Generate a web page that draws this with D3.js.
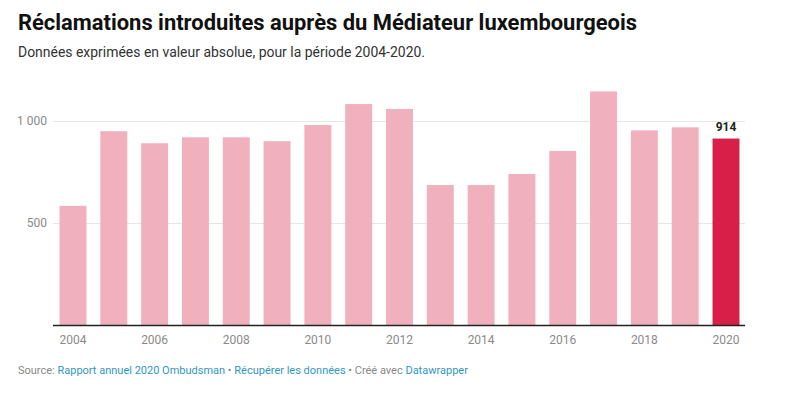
<!DOCTYPE html>
<html>
<head>
<meta charset="utf-8">
<script src="https://cdn.jsdelivr.net/npm/d3@7"></script>
<style>
  body { margin: 0; background: #fff; font-family: Roboto, "Noto Sans", sans-serif; }
  svg { display: block; }
  .grid line { stroke: #e6e6e6; }
  .tick text { fill: #8a8a8a; font-size: 12px; }
  a { fill: #2f97c1; }
</style>
</head>
<body>
<svg width="810" height="399"></svg>
<script>
// data
const years = [2004, 2005, 2006, 2007, 2008, 2009, 2010, 2011, 2012, 2013, 2014, 2015, 2016, 2017, 2018, 2019, 2020];
const complaints = [584, 950, 891, 920, 920, 901, 980, 1083, 1059, 686, 686, 740, 853, 1145, 954, 969, 914];
const yTicks = [500, 1000];
const xTickYears = [2004, 2006, 2008, 2010, 2012, 2014, 2016, 2018, 2020];
const highlightYear = 2020;

const svg = d3.select("svg");
const margin = { left: 53, right: 65, top: 80, bottom: 74 };
const width = 810, height = 399;

const x = d3.scaleBand()
  .domain(years)
  .range([margin.left, width - margin.right + 1])
  .paddingInner(0.34)
  .paddingOuter(0.16);

const y = d3.scaleLinear()
  .domain([0, 1000])
  .range([325, 121]);

// title + subtitle
svg.append("text")
  .attr("x", 18).attr("y", 30)
  .attr("font-size", 22).attr("font-weight", 700)
  .attr("fill", "#111")
  .attr("textLength", 619).attr("lengthAdjust", "spacingAndGlyphs")
  .text("Réclamations introduites auprès du Médiateur luxembourgeois");

svg.append("text")
  .attr("x", 18).attr("y", 57)
  .attr("font-size", 14)
  .attr("fill", "#333")
  .attr("textLength", 407).attr("lengthAdjust", "spacingAndGlyphs")
  .text("Données exprimées en valeur absolue, pour la période 2004-2020.");

// gridlines + y labels
const grid = svg.append("g").attr("class", "grid");
grid.selectAll("line")
  .data(yTicks)
  .join("line")
  .attr("x1", margin.left).attr("x2", width - margin.right)
  .attr("y1", (d) => Math.round(y(d)) + 0.5)
  .attr("y2", (d) => Math.round(y(d)) + 0.5);

svg.append("g")
  .attr("class", "tick")
  .selectAll("text")
  .data(yTicks)
  .join("text")
  .attr("x", 47)
  .attr("y", (d) => y(d) + 4)
  .attr("text-anchor", "end")
  .text((d) => d3.format(",")(d).replace(",", " "));

// bars
svg.append("g")
  .selectAll("rect")
  .data(years)
  .join("rect")
  .attr("x", (d) => x(d))
  .attr("width", x.bandwidth())
  .attr("y", (d, i) => y(complaints[i]))
  .attr("height", (d, i) => y(0) - y(complaints[i]))
  .attr("fill", (d) => (d === highlightYear ? "#d81f48" : "#f0b0be"));

// value label for highlighted bar
const hi = years.indexOf(highlightYear);
svg.append("text")
  .attr("x", x(highlightYear) + x.bandwidth() / 2)
  .attr("y", y(complaints[hi]) - 8)
  .attr("text-anchor", "middle")
  .attr("font-size", 12).attr("font-weight", 700)
  .attr("fill", "#222")
  .text(complaints[hi]);

// baseline
svg.append("line")
  .attr("x1", margin.left).attr("x2", width - margin.right)
  .attr("y1", y(0) + 0.5).attr("y2", y(0) + 0.5)
  .attr("stroke", "#222").attr("stroke-width", 1.5);

// x labels
svg.append("g")
  .attr("class", "tick")
  .selectAll("text")
  .data(xTickYears)
  .join("text")
  .attr("x", (d) => x(d) + x.bandwidth() / 2)
  .attr("y", 344)
  .attr("text-anchor", "middle")
  .text((d) => d);

// footer
const foot = svg.append("text")
  .attr("x", 18).attr("y", 374)
  .attr("font-size", 11)
  .attr("fill", "#888");
foot.append("tspan").text("Source: ");
foot.append("tspan").attr("fill", "#2f97c1").text("Rapport annuel 2020 Ombudsman");
foot.append("tspan").text(" • ");
foot.append("tspan").attr("fill", "#2f97c1").text("Récupérer les données");
foot.append("tspan").text(" • Créé avec ");
foot.append("tspan").attr("fill", "#2f97c1").text("Datawrapper");
</script>
</body>
</html>
